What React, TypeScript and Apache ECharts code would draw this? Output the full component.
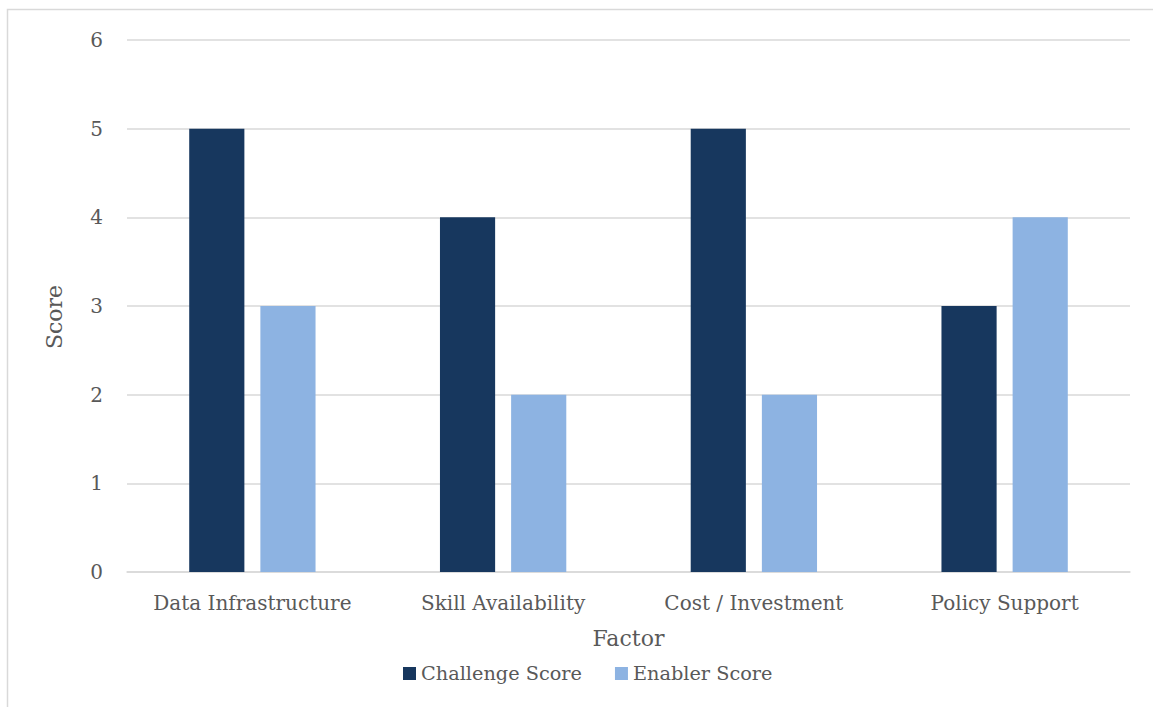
import React, { useEffect, useRef } from "react";
import * as echarts from "echarts";

const categories = ["Data Infrastructure", "Skill Availability", "Cost / Investment", "Policy Support"];
const challengeScores = [5, 4, 5, 3];
const enablerScores = [3, 2, 2, 4];
const seriesNames = ["Challenge Score", "Enabler Score"];

const FONT = "DejaVu Serif";
const TEXT = "#595959";

export default function App() {
  const ref = useRef<HTMLDivElement>(null);
  useEffect(() => {
    if (!ref.current) return;
    const chart = echarts.init(ref.current, null, { renderer: "svg" });
    chart.setOption({
      animation: false,
      backgroundColor: "#ffffff",
      textStyle: { fontFamily: FONT, color: TEXT },
      graphic: [
        {
          type: "rect",
          shape: { x: 7.5, y: 9.5, width: 1160, height: 720 },
          style: { fill: "none", stroke: "#d9d9d9", lineWidth: 1.5 },
          silent: true,
        },
      ],
      grid: { left: 127, right: 23, top: 40, bottom: 135, containLabel: false },
      legend: {
        data: seriesNames,
        bottom: 19,
        left: 398,
        icon: "rect",
        itemWidth: 13,
        itemHeight: 13,
        itemGap: 33,
        textStyle: { fontFamily: FONT, fontSize: 19.3, color: TEXT },
      },
      xAxis: {
        type: "category",
        data: categories,
        name: "Factor",
        nameLocation: "middle",
        nameGap: 55,
        nameTextStyle: { fontFamily: FONT, fontSize: 22, color: TEXT },
        axisLine: { lineStyle: { color: "#d9d9d9", width: 1.5 } },
        axisTick: { show: false },
        axisLabel: { fontFamily: FONT, fontSize: 20, color: TEXT, margin: 21, interval: 0 },
      },
      yAxis: {
        type: "value",
        min: 0,
        max: 6,
        interval: 1,
        name: "Score",
        nameLocation: "middle",
        nameGap: 62,
        nameTextStyle: { fontFamily: FONT, fontSize: 22, color: TEXT, padding: [0, 22, 0, 0] },
        axisLine: { show: false },
        axisTick: { show: false },
        axisLabel: { fontFamily: FONT, fontSize: 20, color: TEXT, margin: 24 },
        splitLine: { lineStyle: { color: "#d9d9d9", width: 1.5 } },
      },
      series: [
        {
          name: seriesNames[0],
          type: "bar",
          data: challengeScores,
          barWidth: "22%",
          barGap: "29%",
          itemStyle: { color: "#17375e" },
        },
        {
          name: seriesNames[1],
          type: "bar",
          data: enablerScores,
          barWidth: "22%",
          itemStyle: { color: "#8db3e2" },
        },
      ],
    });
    return () => chart.dispose();
  }, []);
  return (
    <div
      ref={ref}
      style={{ position: "absolute", left: 0, top: 0, width: 1153, height: 707 }}
    />
  );
}
